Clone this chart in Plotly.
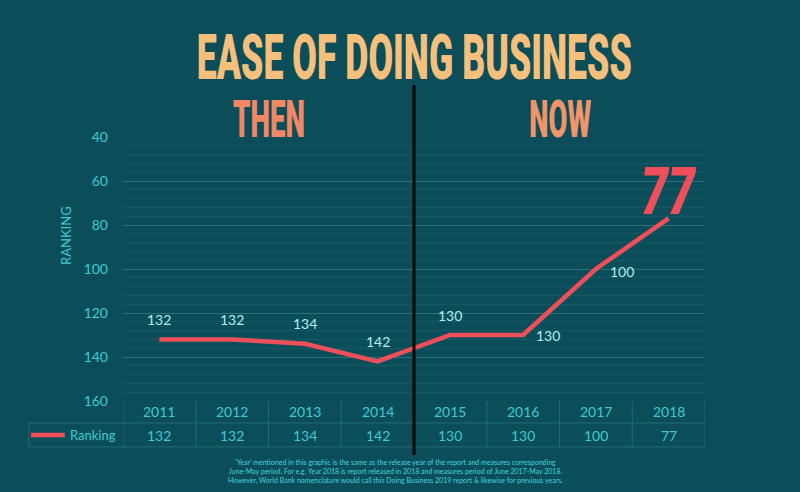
import plotly.graph_objects as go

years = ["2011", "2012", "2013", "2014", "2015", "2016", "2017", "2018"]
ranking = [132, 132, 134, 142, 130, 130, 100, 77]
y_ticks = [40, 60, 80, 100, 120, 140, 160]
title_text = "EASE OF DOING BUSINESS"
period_labels = ["THEN", "NOW"]
footer_lines = [
    "'Year' mentioned in this graphic is the same as the release year of the report and measures corresponding",
    "June-May period. For e.g. Year 2018 is report released in 2018 and measures period of June 2017-May 2018.",
    "However, World Bank nomenclature would call this Doing Business 2019 report & likewise for previous years.",
]

BG = "#0b4d59"
RED = "#ef4f5a"
CYAN = "#3fcad3"
LABEL = "#b4eef0"
TABLE_LINE = "#246b75"
FONT = "Lato"
HEAD = "Roboto"

x = list(range(len(years)))

fig = go.Figure()
fig.add_trace(go.Scatter(
    x=x, y=ranking, mode="lines",
    line=dict(color=RED, width=4.5),
    hoverinfo="skip", showlegend=False,
))

annotations = []
squeeze = {}  # annotation index -> (target width px, vertical scale)


def ann(**kw):
    kw.setdefault("showarrow", False)
    kw.setdefault("xanchor", "center")
    kw.setdefault("yanchor", "middle")
    annotations.append(kw)
    return len(annotations) - 1


shifts = [(0, 20), (0, 20), (0, 20), (0, 20), (0, 20), (25, 0), (26, -2)]
for i, (xs, ys) in enumerate(shifts):
    ann(x=x[i], y=ranking[i], xref="x", yref="y", text=str(ranking[i]),
        xshift=xs, yshift=ys, font=dict(family=FONT, size=14, color=LABEL))

k = ann(x=x[-1], y=ranking[-1], xref="x", yref="y", text=str(ranking[-1]), yshift=27,
        font=dict(family=HEAD, size=50, color=RED, weight=900, style="italic"))
squeeze[k] = (56, 1.32)

k = ann(x=3.5, y=1.303, xref="x", yref="paper", text=title_text,
        font=dict(family=HEAD, size=46, color="#f4c07c", weight=900))
squeeze[k] = (435, 1.36)
k = ann(x=1.507, y=1.068, xref="x", yref="paper", text=period_labels[0],
        font=dict(family=HEAD, size=40, color="#f08866", weight=900))
squeeze[k] = (72, 1.3)
k = ann(x=5.52, y=1.068, xref="x", yref="paper", text=period_labels[1],
        font=dict(family=HEAD, size=40, color="#f0956a", weight=900))
squeeze[k] = (62, 1.3)

ann(x=-0.098, y=0.629, xref="paper", yref="paper", text="RANKING", textangle=-90,
    font=dict(family=FONT, size=13, color=CYAN))

for i, yr in enumerate(years):
    ann(x=x[i], y=-0.0405, xref="x", yref="paper", text=yr,
        font=dict(family=FONT, size=14, color=CYAN))
    ann(x=x[i], y=-0.129, xref="x", yref="paper", text=str(ranking[i]),
        font=dict(family=FONT, size=14, color=CYAN))
ann(x=-0.0086, y=-0.129, xref="paper", yref="paper", text="Ranking", xanchor="right",
    font=dict(family=FONT, size=13, color=CYAN))

ann(x=0.469, y=-0.266, xref="paper", yref="paper", text="<br>".join(footer_lines),
    align="center", font=dict(family=FONT, size=7, color="#44d6de"))

shapes = []
for j in range(len(years) + 1):
    shapes.append(dict(type="line", xref="x", yref="paper",
                       x0=j - 0.5, x1=j - 0.5, y0=0, y1=-0.174,
                       line=dict(color=TABLE_LINE, width=1)))
shapes.append(dict(type="line", xref="paper", yref="paper", x0=-0.1615, x1=1,
                   y0=-0.0833, y1=-0.0833, line=dict(color=TABLE_LINE, width=1)))
shapes.append(dict(type="line", xref="paper", yref="paper", x0=-0.1615, x1=1,
                   y0=-0.174, y1=-0.174, line=dict(color=TABLE_LINE, width=1)))
shapes.append(dict(type="line", xref="paper", yref="paper", x0=-0.1615, x1=-0.1615,
                   y0=-0.0833, y1=-0.174, line=dict(color=TABLE_LINE, width=1)))
shapes.append(dict(type="line", xref="paper", yref="paper", x0=-0.158, x1=-0.1,
                   y0=-0.129, y1=-0.129, line=dict(color=RED, width=4.5)))
shapes.append(dict(type="line", xref="x", yref="paper", x0=3.5, x1=3.5,
                   y0=1.197, y1=-0.2045, line=dict(color="#050505", width=3)))

fig.update_layout(
    width=800, height=492,
    margin=dict(l=123, r=95, t=137, b=91),
    paper_bgcolor=BG, plot_bgcolor=BG,
    showlegend=False,
    annotations=annotations, shapes=shapes,
    xaxis=dict(range=[-0.5, 7.5], showticklabels=False, showgrid=False,
               zeroline=False, showline=False, fixedrange=True),
    yaxis=dict(range=[160, 40], tickvals=y_ticks, ticktext=[str(v) for v in y_ticks],
               tickfont=dict(family=FONT, size=14, color=CYAN),
               showgrid=True, gridcolor="#2a717c", gridwidth=1,
               minor=dict(dtick=4, showgrid=True, gridcolor="#145965", gridwidth=1),
               zeroline=False, showline=False, ticks="", ticklabelstandoff=14,
               fixedrange=True),
)

squeeze_js = ",".join(f"[{i},{w},{s}]" for i, (w, s) in squeeze.items())
post = (
    "document.body.style.margin='0';"
    f"document.body.style.background='{BG}';"
    f"[{squeeze_js}].forEach(function(p){{"
    "var g=document.querySelector('g.annotation[data-index=\"'+p[0]+'\"] text.annotation-text');"
    "if(!g)return;var w=g.getBBox().width;if(!w)return;"
    "g.style.transformBox='fill-box';g.style.transformOrigin='center';"
    "g.style.transform='scale('+(p[1]/w)+','+p[2]+')';});"
)

fig.write_html("out.html", config={"displayModeBar": False}, post_script=post)
